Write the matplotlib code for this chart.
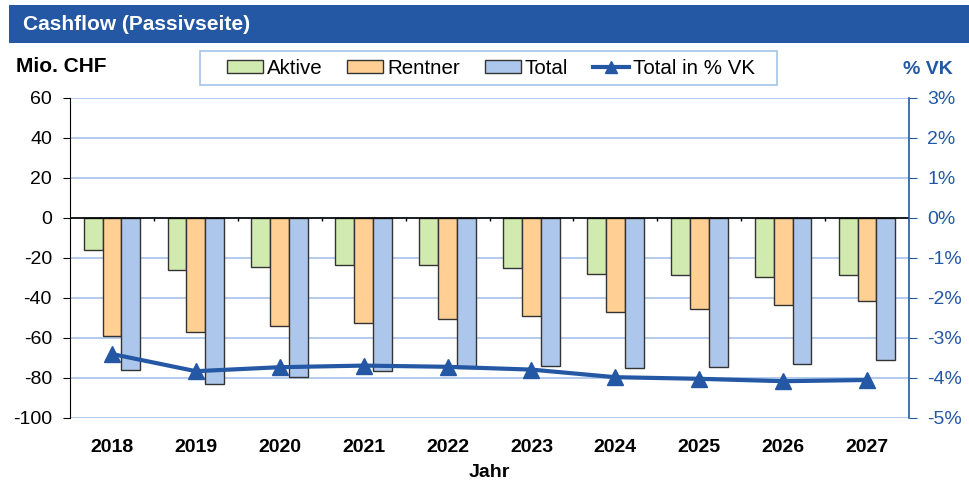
import matplotlib
matplotlib.use("Agg")
import matplotlib.pyplot as plt
import numpy as np
from matplotlib.patches import Rectangle, Patch
from matplotlib.lines import Line2D
from matplotlib.ticker import FuncFormatter

plt.rcParams['font.family'] = ['Liberation Sans', 'DejaVu Sans']
plt.rcParams['axes.unicode_minus'] = False

years = ['2018', '2019', '2020', '2021', '2022', '2023', '2024', '2025', '2026', '2027']
aktive = [-16, -26, -24.5, -23.7, -23.7, -25.2, -28, -28.7, -29.5, -28.7]
rentner = [-59, -57, -54, -52.5, -50.5, -49, -47, -45.3, -43.5, -41.3]
total = [-76, -83, -79.3, -76.5, -74.8, -74.2, -75.2, -74.3, -73, -71]
total_pct_vk = [-3.40, -3.83, -3.73, -3.69, -3.72, -3.79, -3.98, -4.02, -4.08, -4.05]

c_green = '#D1EAB0'
c_orange = '#FFCF94'
c_blue = '#ADC7EC'
c_line = '#2457A4'
c_grid = '#A6C2EA'
c_edge = '#333333'

fig = plt.figure(figsize=(9.69, 4.84), dpi=100)
W, H = 969, 484

def fx(px):
    return px / W

def fy(py):
    return 1 - py / H

# title banner
fig.patches.append(Rectangle((fx(9), fy(43)), fx(960), 38 / H, transform=fig.transFigure,
                             facecolor=c_line, edgecolor='none', zorder=0))
fig.text(fx(23), fy(24), 'Cashflow (Passivseite)', color='white', fontsize=15,
         fontweight='bold', va='center', ha='left')

fig.text(fx(16), fy(67), 'Mio. CHF', fontsize=15, fontweight='bold', va='center', ha='left')
fig.text(fx(953), fy(69), '% VK', fontsize=14, fontweight='bold', va='center', ha='right',
         color=c_line)

ax = fig.add_axes([fx(70), fy(418), fx(909) - fx(70), (418 - 98) / H])
x = np.arange(len(years))
bw = 0.225
ax.bar(x - bw, aktive, bw, color=c_green, edgecolor=c_edge, linewidth=1, zorder=3)
ax.bar(x, rentner, bw, color=c_orange, edgecolor=c_edge, linewidth=1, zorder=3)
ax.bar(x + bw, total, bw, color=c_blue, edgecolor=c_edge, linewidth=1, zorder=3)

ax.set_xlim(-0.5, len(years) - 0.5)
ax.set_ylim(-100, 60)
ax.set_yticks(np.arange(-100, 61, 20))
ax.yaxis.grid(True, color=c_grid, linewidth=1.2, zorder=0)
ax.set_axisbelow(True)
ax.axhline(0, color='black', linewidth=1.2, zorder=4)
# category boundary ticks on the zero line
ax.vlines(np.arange(0.5, len(years) - 1, 1.0), -1.6, 0, color='black', linewidth=1, zorder=4)

ax.set_xticks(x)
ax.set_xticklabels(years, fontweight='bold', fontsize=14)
ax.tick_params(axis='x', length=0, pad=15)
ax.tick_params(axis='y', labelsize=14, length=5, direction='out', color='black', pad=8)
ax.set_xlabel('Jahr', fontsize=14, fontweight='bold', labelpad=6)

for s in ['top', 'bottom']:
    ax.spines[s].set_visible(False)
ax.spines['left'].set_color('black')
ax.spines['right'].set_visible(False)

ax2 = ax.twinx()
ax2.plot(x, total_pct_vk, color=c_line, linewidth=3, marker='^', markersize=11, zorder=5)
ax2.set_ylim(-5, 3)
ax2.set_yticks(np.arange(-5, 3.1, 1))
ax2.yaxis.set_major_formatter(FuncFormatter(lambda v, p: f'{int(round(v))}%'))
ax2.tick_params(axis='y', labelsize=14, length=6, direction='out', color=c_line,
                labelcolor=c_line, pad=7)
for s in ['top', 'bottom', 'left']:
    ax2.spines[s].set_visible(False)
ax2.spines['right'].set_color(c_line)
ax2.spines['right'].set_linewidth(1.2)

# legend frame
fig.patches.append(Rectangle((fx(200), fy(85)), fx(577), 34 / H, transform=fig.transFigure,
                             facecolor='white', edgecolor=c_grid, linewidth=1.2, zorder=1))

handles = [
    Patch(facecolor=c_green, edgecolor=c_edge, linewidth=1),
    Patch(facecolor=c_orange, edgecolor=c_edge, linewidth=1),
    Patch(facecolor=c_blue, edgecolor=c_edge, linewidth=1),
    Line2D([0], [0], color=c_line, linewidth=3, marker='^', markersize=8),
]
labels = ['Aktive', 'Rentner', 'Total', 'Total in % VK']
leg = fig.legend(handles, labels, loc='center', ncol=4,
                 bbox_to_anchor=(fx(491), fy(68)), fontsize=14.8, frameon=False,
                 handlelength=1.75, handleheight=0.6,
                 handletextpad=0.2, columnspacing=1.2, borderpad=0.3, borderaxespad=0)
leg.set_zorder(2)

fig.savefig('out.png', dpi=100)
